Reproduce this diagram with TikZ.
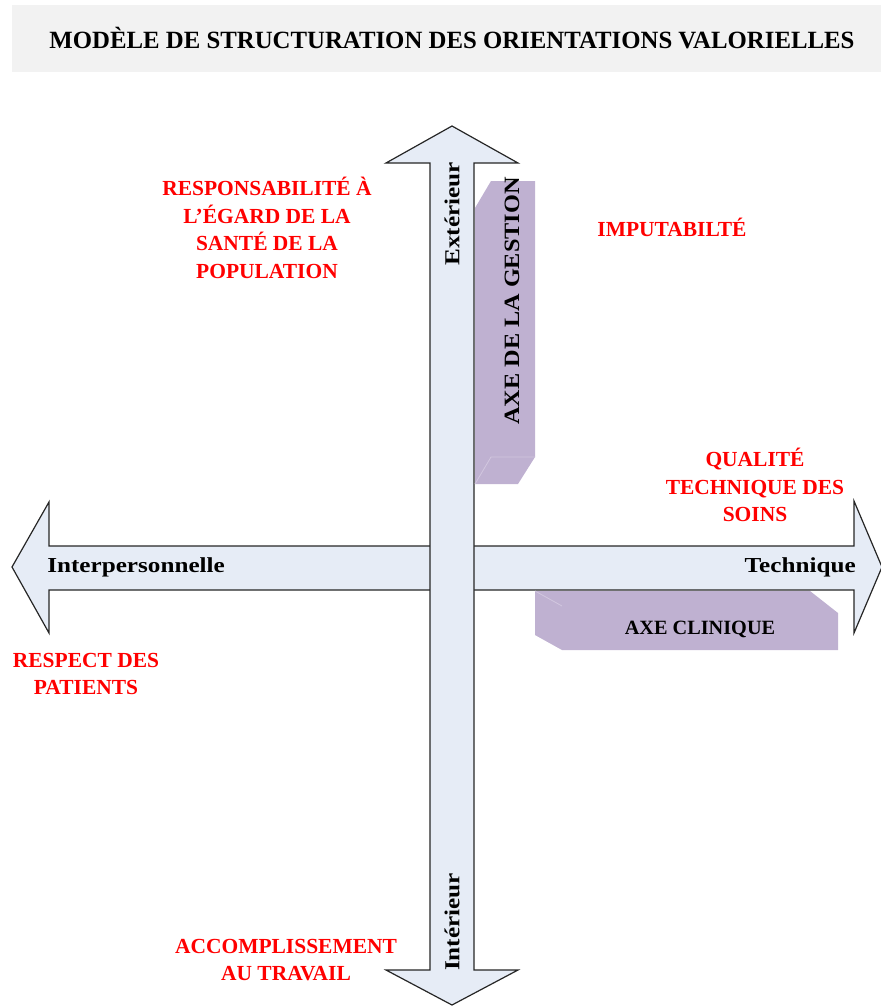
\documentclass[tikz,border=0pt]{standalone}
\usepackage{fontspec}
\setmainfont{Liberation Serif}
\definecolor{arrowfill}{HTML}{E6ECF6}
\definecolor{purp}{HTML}{BFB1D1}
\definecolor{purpl}{HTML}{D2C7DF}
\definecolor{titlebg}{HTML}{F2F2F2}
\definecolor{redtxt}{HTML}{FF0000}
\tikzset{
  bigarrow/.style={fill=arrowfill, draw=black!85, line width=0.9pt, line join=miter},
  axebox/.style={fill=purp, draw=none},
  bevel/.style={draw=purpl, line width=0.6pt},
  redlabel/.style={text=redtxt, font=\fontsize{16.1}{20.8}\selectfont\bfseries, align=center, inner sep=0pt},
  axislabel/.style={text=black, font=\fontsize{16}{18}\selectfont\bfseries, inner sep=0pt},
  titlelabel/.style={text=black, font=\fontsize{18.6}{22}\selectfont\bfseries, inner sep=0pt}
}
\newcommand{\wide}[1]{\scalebox{1.18}[1]{#1}}
\begin{document}
\begin{tikzpicture}[x=0.75pt, y=-0.75pt]
\useasboundingbox (0,0) rectangle (881,1007);
\clip (0,0) rectangle (881,1007);
% title
\node[fill=titlebg, minimum width=869*0.75pt, minimum height=67*0.75pt, inner sep=0pt, anchor=north west] (titlebox) at (12,5) {};
\node[titlelabel] (title) at (452,38) {MODÈLE DE STRUCTURATION DES ORIENTATIONS VALORIELLES};
% horizontal arrow
\draw[bigarrow] (49,546) -- (49,502) -- (12,567) -- (49,633) -- (49,590) -- (854,590) -- (854,633) -- (882,567) -- (854,501) -- (854,546) -- cycle;
% vertical arrow
\draw[bigarrow] (430,163) -- (386,163) -- (452,126) -- (518,163) -- (474,163) -- (474,970) -- (518,970) -- (452,1005) -- (386,970) -- (430,970) -- cycle;
% axe de la gestion box
\fill[axebox] (475,208) -- (491,181) -- (535,181) -- (535,457) -- (518,484) -- (475,484) -- cycle;
\draw[bevel] (475,484) -- (491,457) -- (535,457);
% axe clinique box
\fill[axebox] (535,591) -- (810,591) -- (838,613) -- (838,650) -- (562,650) -- (535,635) -- cycle;
\draw[bevel] (535,591) -- (562,606);
% axis labels
\node[axislabel, rotate=90] (ext) at (452,214) {\wide{Extérieur}};
\node[axislabel, rotate=90] (int) at (452,922) {\wide{Intérieur}};
\node[axislabel, anchor=west] (interp) at (47,567) {\wide{Interpersonnelle}};
\node[axislabel, anchor=east] (tech) at (856,567) {\wide{Technique}};
\node[axislabel, font=\fontsize{16.4}{20}\selectfont\bfseries, rotate=90] (gestion) at (512,301) {\scalebox{1.11}[1]{AXE DE LA GESTION}};
\node[axislabel, font=\fontsize{15.2}{18}\selectfont\bfseries] (clinique) at (700,629) {AXE CLINIQUE};
% red labels
\node[redlabel] (resp) at (267,228) {RESPONSABILITÉ À\\L’ÉGARD DE LA\\SANTÉ DE LA\\POPULATION};
\node[redlabel] (imput) at (672,227) {IMPUTABILTÉ};
\node[redlabel] (qual) at (755,485) {QUALITÉ\\TECHNIQUE DES\\SOINS};
\node[redlabel] (respect) at (86,674) {RESPECT DES\\PATIENTS};
\node[redlabel] (accomp) at (286,960) {ACCOMPLISSEMENT\\AU TRAVAIL};
\end{tikzpicture}
\end{document}
